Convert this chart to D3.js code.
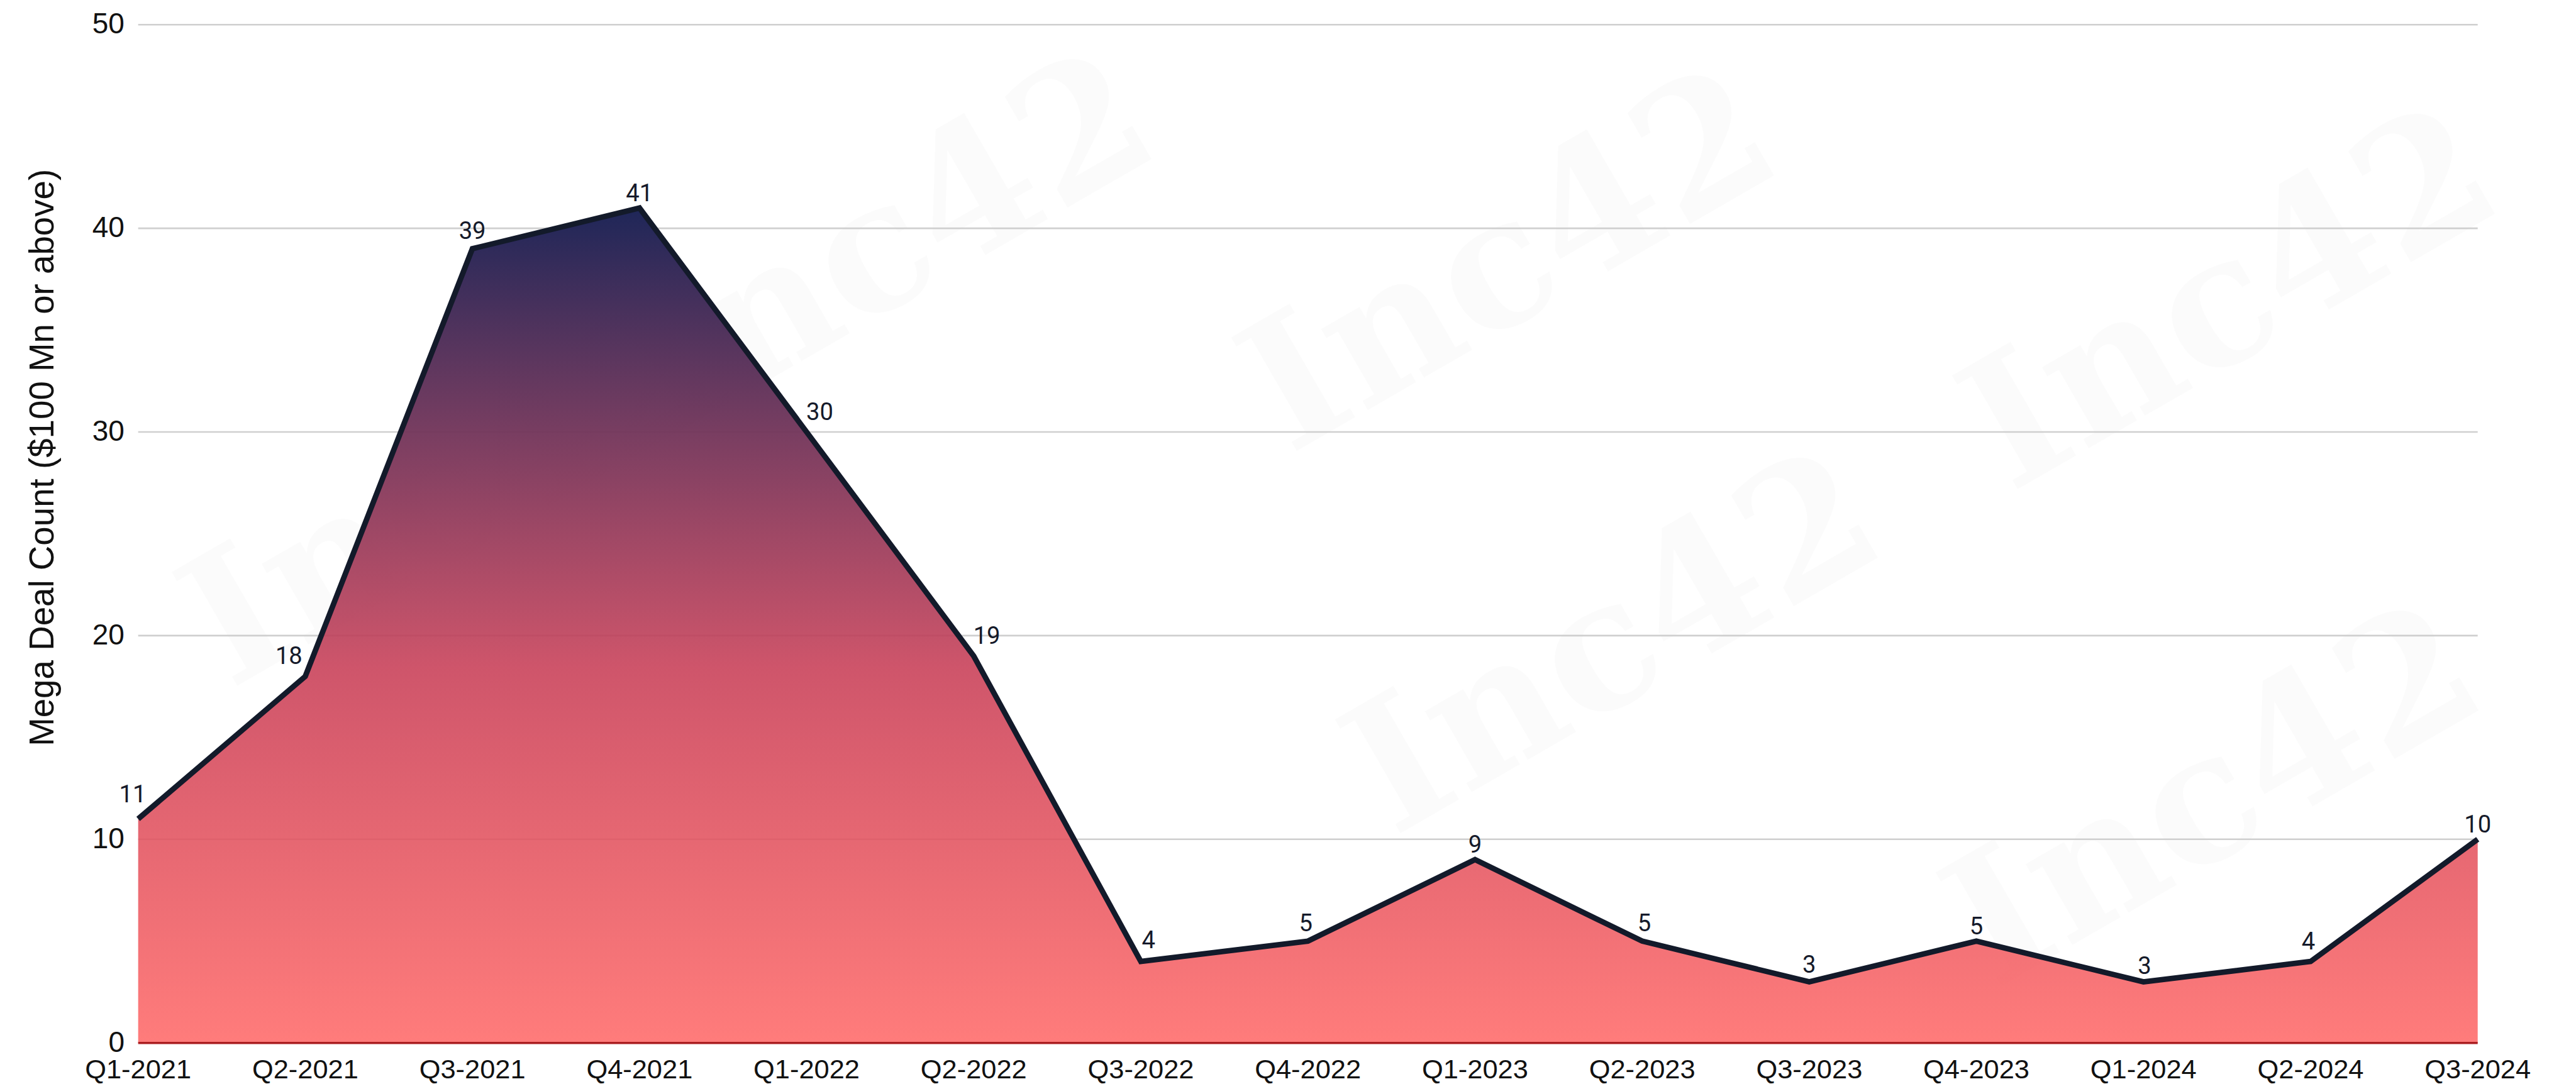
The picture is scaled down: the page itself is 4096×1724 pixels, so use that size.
<!DOCTYPE html>
<html>
<head>
<meta charset="utf-8">
<script src="https://cdn.jsdelivr.net/npm/d3@7"></script>
<style>
  body { margin: 0; background: #fff; }
  svg { display: block; }
</style>
</head>
<body>
<svg id="chart"></svg>
<script>
const quarters = ["Q1-2021", "Q2-2021", "Q3-2021", "Q4-2021", "Q1-2022", "Q2-2022", "Q3-2022",
  "Q4-2022", "Q1-2023", "Q2-2023", "Q3-2023", "Q4-2023", "Q1-2024", "Q2-2024", "Q3-2024"];
const dealCounts = [11, 18, 39, 41, 30, 19, 4, 5, 9, 5, 3, 5, 3, 4, 10];
const yTicks = [0, 10, 20, 30, 40, 50];
const yTitle = "Mega Deal Count ($100 Mn or above)";
const watermark = "Inc42";

// drawn in the reference's own pixel space, the viewBox scales it to the window
const W = 4717, H = 1985;
const svg = d3.select("#chart")
  .attr("width", 4096)
  .attr("height", 1724)
  .attr("viewBox", `0 0 ${W} ${H}`);

const plot = { left: 253, right: 4537, top: 45, bottom: 1910 };
const x = d3.scalePoint().domain(quarters).range([plot.left, plot.right]);
const y = d3.scaleLinear().domain([0, 50]).range([plot.bottom, plot.top]);

// gradient for the area, opaque navy at the peak fading to translucent coral
const defs = svg.append("defs");
const grad = defs.append("linearGradient")
  .attr("id", "areaFill")
  .attr("gradientUnits", "userSpaceOnUse")
  .attr("x1", 0).attr("x2", 0)
  .attr("y1", y(d3.max(dealCounts))).attr("y2", y(0));
[
  { o: 0, c: "#1e2658", a: 1 },
  { o: 0.55, c: "#c9425a", a: 0.9 },
  { o: 1, c: "#ff5f5e", a: 0.82 }
].forEach(s => grad.append("stop")
  .attr("offset", s.o).attr("stop-color", s.c).attr("stop-opacity", s.a));

// faint watermark behind the marks
const marks = [[1620, 440], [2760, 470], [4080, 540], [2950, 1170], [820, 900], [4050, 1450]];
svg.append("g")
  .selectAll("text")
  .data(marks)
  .join("text")
  .attr("transform", d => `translate(${d[0]},${d[1]}) rotate(-30)`)
  .attr("text-anchor", "middle")
  .attr("dy", "0.35em")
  .attr("font-family", "DejaVu Serif, serif")
  .attr("font-weight", "bold")
  .attr("font-size", 330)
  .attr("fill", "#000")
  .attr("fill-opacity", 0.016)
  .text(watermark);

// gridlines
svg.append("g")
  .selectAll("line")
  .data(yTicks.filter(t => t > 0))
  .join("line")
  .attr("x1", plot.left).attr("x2", plot.right)
  .attr("y1", d => y(d)).attr("y2", d => y(d))
  .attr("stroke", "#cfcfcf")
  .attr("stroke-width", 3);

const area = d3.area()
  .x((d, i) => x(quarters[i]))
  .y0(y(0))
  .y1(d => y(d));
const line = d3.line()
  .x((d, i) => x(quarters[i]))
  .y(d => y(d));

svg.append("path")
  .datum(dealCounts)
  .attr("d", area)
  .attr("fill", "url(#areaFill)");

svg.append("line")
  .attr("x1", plot.left).attr("x2", plot.right)
  .attr("y1", y(0)).attr("y2", y(0))
  .attr("stroke", "#ab1f22")
  .attr("stroke-width", 4);

svg.append("path")
  .datum(dealCounts)
  .attr("d", line)
  .attr("fill", "none")
  .attr("stroke", "#131a2a")
  .attr("stroke-width", 10)
  .attr("stroke-linejoin", "miter");

// y tick labels
svg.append("g")
  .selectAll("text")
  .data(yTicks)
  .join("text")
  .attr("x", 228)
  .attr("y", d => y(d))
  .attr("dy", "0.3em")
  .attr("text-anchor", "end")
  .attr("font-family", "Liberation Sans, Arial, sans-serif")
  .attr("font-size", 53)
  .attr("fill", "#111")
  .text(d => d);

// x tick labels
svg.append("g")
  .selectAll("text")
  .data(quarters)
  .join("text")
  .attr("x", d => x(d))
  .attr("y", 1975)
  .attr("text-anchor", "middle")
  .attr("font-family", "Liberation Sans, Arial, sans-serif")
  .attr("font-size", 50)
  .attr("fill", "#111")
  .text(d => d);

svg.append("text")
  .attr("transform", "translate(98,838) rotate(-90)")
  .attr("text-anchor", "middle")
  .attr("font-family", "Liberation Sans, Arial, sans-serif")
  .attr("font-size", 63)
  .attr("fill", "#111")
  .text(yTitle);

// value labels: start just above each point, nudge away from the line if they touch it
const pts = dealCounts.map((d, i) => [x(quarters[i]), y(d)]);
const reach = 10;
function hitsLine(cx, cy, hw, hh) {
  for (let i = 0; i < pts.length - 1; i++) {
    const [x0, y0] = pts[i], [x1, y1] = pts[i + 1];
    if (x1 < cx - hw - reach || x0 > cx + hw + reach) continue;
    const n = Math.ceil(Math.hypot(x1 - x0, y1 - y0) / 3);
    for (let k = 0; k <= n; k++) {
      const px = x0 + (x1 - x0) * k / n, py = y0 + (y1 - y0) * k / n;
      if (Math.abs(px - cx) <= hw + reach && Math.abs(py - cy) <= hh + reach) return true;
    }
  }
  return false;
}
function lineY(px) {
  const i = Math.max(0, Math.min(pts.length - 2, d3.bisectRight(pts.map(p => p[0]), px) - 1));
  const [x0, y0] = pts[i], [x1, y1] = pts[i + 1];
  return y0 + (y1 - y0) * (px - x0) / (x1 - x0);
}
const offsets = [];
for (let dx = -90; dx <= 90; dx += 2)
  for (let dy = -110; dy <= 10; dy += 2) offsets.push([dx, dy]);
offsets.sort((a, b) => (a[0] ** 2 + (a[1] + 28) ** 2) - (b[0] ** 2 + (b[1] + 28) ** 2));

const labelSize = 44;
const labels = svg.append("g")
  .selectAll("text")
  .data(dealCounts)
  .join("text")
  .attr("text-anchor", "middle")
  .attr("font-family", "Roboto, sans-serif")
  .attr("font-size", labelSize)
  .attr("fill", "#151a2a")
  .text(d => d);

labels.each(function (d, i) {
  const hw = this.getComputedTextLength() / 2;
  const hh = labelSize * 0.711 / 2;
  const [px, py] = pts[i];
  let best = [0, -28];
  for (const [dx, dy] of offsets) {
    const cx = px + dx, cy = py + dy;
    if (cy + hh >= lineY(cx)) continue;
    if (!hitsLine(cx, cy, hw, hh)) { best = [dx, dy]; break; }
  }
  d3.select(this)
    .attr("x", px + best[0])
    .attr("y", py + best[1] + hh);
});
</script>
</body>
</html>
